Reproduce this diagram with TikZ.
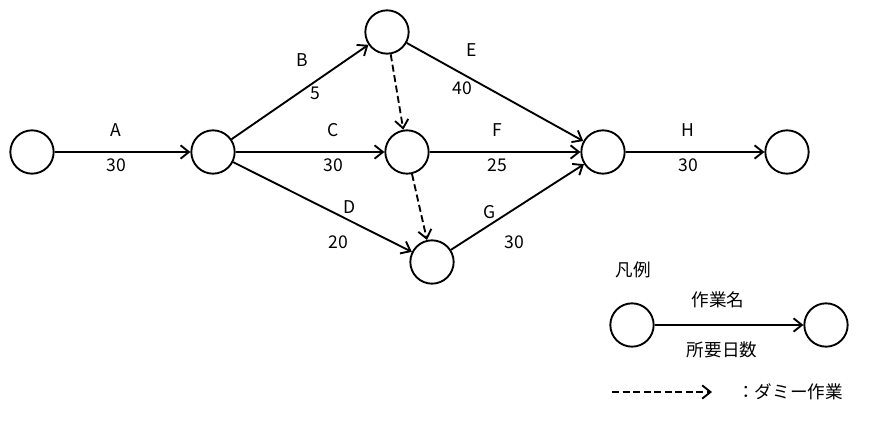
\documentclass[tikz,border=0pt]{standalone}
\usepackage{fontspec}
\setmainfont{Noto Sans CJK JP}
\usetikzlibrary{arrows.meta}
\tikzset{
ev/.style={draw,circle,minimum size=1.3cm,line width=1.6pt,inner sep=0pt},
act/.style={-{Straight Barb[length=2.5mm,width=4mm]},line width=1.6pt},
dum/.style={act,dash pattern=on 6pt off 3pt},
lb/.style={font=\fontsize{15}{18}\selectfont}
}
\begin{document}
\begin{tikzpicture}[x=0.03cm,y=-0.03cm]
\useasboundingbox (0,0) rectangle (885,422);
\node[ev](n1) at (32,152){};
\node[ev](n2) at (213,152){};
\node[ev](n3) at (387,32){};
\node[ev](n4) at (407,152){};
\node[ev](n5) at (432,262){};
\node[ev](n6) at (603,152){};
\node[ev](n7) at (787,152){};
\node[ev](la) at (632,325){};
\node[ev](lb) at (826,325){};

\draw[act](n1)--(n2);
\draw[act](n2)--(n3);
\draw[act](n2)--(n4);
\draw[act](n2)--(n5);
\draw[act](n3)--(n6);
\draw[act](n4)--(n6);
\draw[act](n5)--(n6);
\draw[act](n6)--(n7);
\draw[dum](n3)--(n4);
\draw[dum](n4)--(n5);
\draw[act](la)--(lb);

\node[lb] at (116,130){A};
\node[lb] at (116,165){30};
\node[lb] at (302,60){B};
\node[lb] at (315,93){5};
\node[lb] at (333,130){C};
\node[lb] at (333,165){30};
\node[lb] at (350,207){D};
\node[lb] at (338,242){20};
\node[lb] at (472,50){E};
\node[lb] at (462,88){40};
\node[lb] at (497,130){F};
\node[lb] at (497,165){25};
\node[lb] at (490,212){G};
\node[lb] at (514,242){30};
\node[lb] at (688,130){H};
\node[lb] at (688,165){30};

\node[lb] at (633,270){凡例};
\node[lb] at (718,300){作業名};
\node[lb] at (722,350){所要日数};
\coordinate(ds) at (612,392);
\coordinate(de) at (712,392);
\draw[dum](ds)--(de);
\node[lb] at (790,392){：ダミー作業};
\end{tikzpicture}
\end{document}
